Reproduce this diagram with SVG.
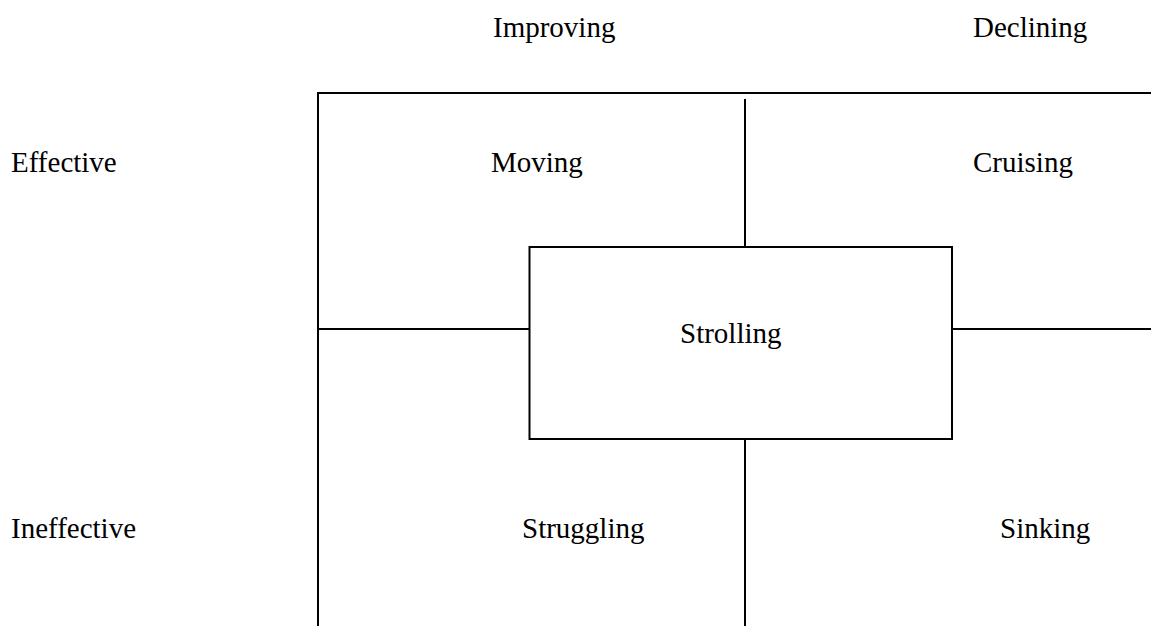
<svg xmlns="http://www.w3.org/2000/svg" width="1151" height="626" viewBox="0 0 1151 626">
<style>
text{font-family:"Liberation Serif","Times New Roman",serif;font-size:29px;fill:#000}
.ln{stroke:#000;stroke-width:2;fill:none}
</style>
<rect width="1151" height="626" fill="#fff"/>
<g id="connectors">
<path class="ln" d="M317,93 H1151"/>
<path class="ln" d="M318,92 V626"/>
<path class="ln" d="M745,99 V246"/>
<path class="ln" d="M745,440 V626"/>
<path class="ln" d="M318,329 H529"/>
<path class="ln" d="M952,329 H1151"/>
</g>
<g id="improving"><text x="493" y="37">Improving</text></g>
<g id="declining"><text x="973" y="37">Declining</text></g>
<g id="effective"><text x="11" y="172">Effective</text></g>
<g id="ineffective"><text x="11" y="538">Ineffective</text></g>
<g id="moving"><text x="491" y="172">Moving</text></g>
<g id="cruising"><text x="973" y="172">Cruising</text></g>
<g id="strolling"><rect class="ln" x="529.5" y="247" width="422.5" height="192"/><text x="680" y="343">Strolling</text></g>
<g id="struggling"><text x="522" y="538">Struggling</text></g>
<g id="sinking"><text x="1000" y="538">Sinking</text></g>
</svg>
